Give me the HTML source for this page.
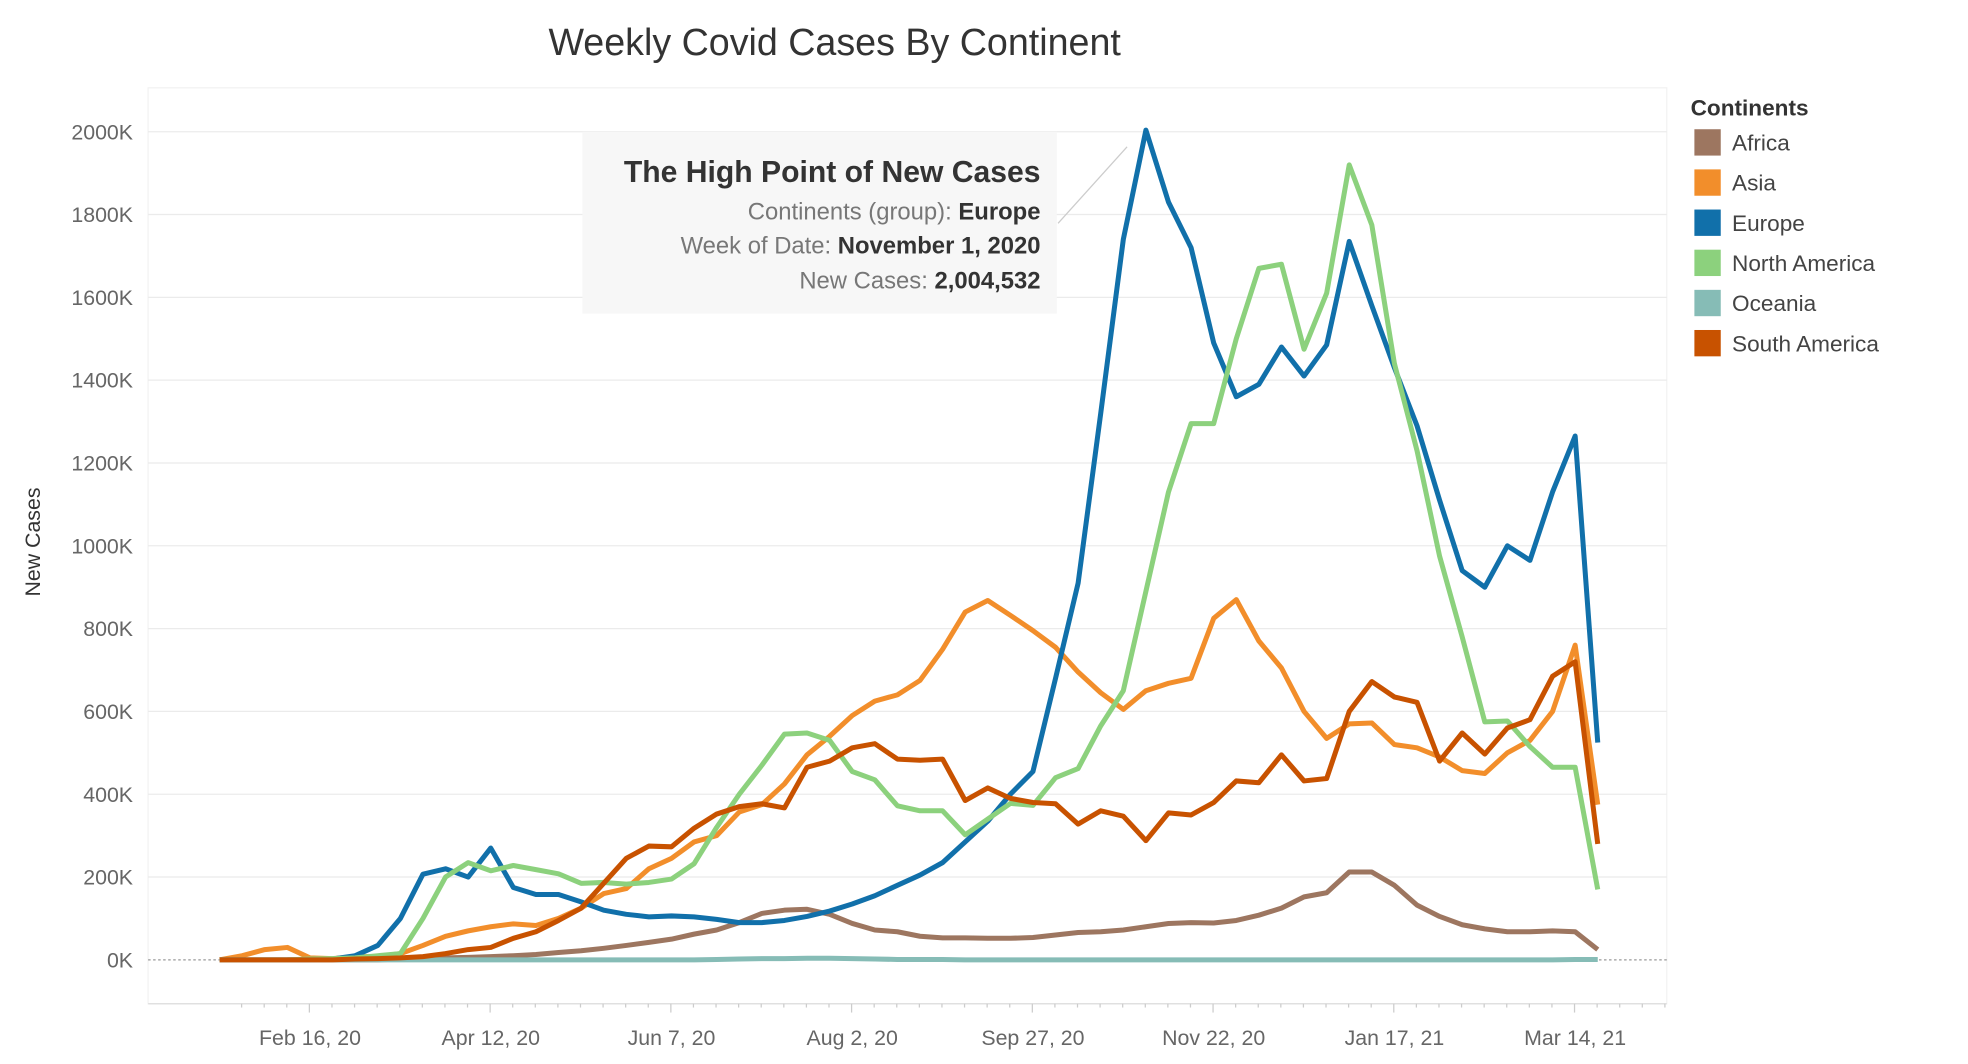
<!DOCTYPE html>
<html><head><meta charset="utf-8"><style>
html,body{margin:0;padding:0;background:#fff;}
svg{display:block;font-family:"Liberation Sans",sans-serif;}
</style></head><body>
<svg id="chart" width="1968" height="1064" viewBox="0 0 1568 848" preserveAspectRatio="none" xmlns="http://www.w3.org/2000/svg">
<text x="665" y="44" text-anchor="middle" font-size="30" fill="#333" font-weight="300">Weekly Covid Cases By Continent</text>
<g id="grid"></g>
<g id="axes"></g>
<g id="series"></g>
<g>
<line x1="843" y1="178" x2="898" y2="117" stroke="#ccc" stroke-width="1"/>
<rect x="464" y="105" width="378" height="145" fill="#f7f7f7"/>
<text x="829" y="145" text-anchor="end" font-size="24" font-weight="bold" fill="#333">The High Point of New Cases</text>
<text x="829" y="175" text-anchor="end" font-size="19" fill="#777">Continents (group): <tspan font-weight="bold" fill="#333">Europe</tspan></text>
<text x="829" y="202" text-anchor="end" font-size="19" fill="#777">Week of Date: <tspan font-weight="bold" fill="#333">November 1, 2020</tspan></text>
<text x="829" y="230" text-anchor="end" font-size="19" fill="#777">New Cases: <tspan font-weight="bold" fill="#333">2,004,532</tspan></text>
</g>
<text transform="translate(32,432) rotate(-90)" text-anchor="middle" font-size="17" fill="#333">New Cases</text>
<g id="legend"></g>
</svg>
<script>
const xLabels=["Feb 16, 20","Apr 12, 20","Jun 7, 20","Aug 2, 20","Sep 27, 20","Nov 22, 20","Jan 17, 21","Mar 14, 21"];
const yTicks=[0,200,400,600,800,1000,1200,1400,1600,1800,2000];
const continents=["Africa","Asia","Europe","North America","Oceania","South America"];
const colors=["#9d7660","#f28e2b","#1170aa","#8cd17d","#86bcb6","#c85200"];
const africa=[null,null,null,0,0,0,0,0,2,3,5,6,8,10,13,18,22,28,35,42,50,62,72,90,112,120,122,110,88,72,68,57,53,53,52,52,54,60,66,68,72,80,88,90,89,95,108,125,152,162,212,212,180,132,105,85,75,68,68,70,68,25];
const asia=[0,10,25,30,5,3,8,8,15,35,57,70,80,87,83,100,125,160,172,220,245,285,300,357,375,425,495,540,590,625,640,675,750,840,868,832,795,755,695,645,605,650,668,680,825,870,770,705,600,535,570,572,520,512,490,457,450,500,530,600,760,375];
const europe=[0,0,0,0,0,2,10,35,100,207,220,200,270,175,158,158,140,120,110,104,106,104,98,90,90,95,105,118,135,155,180,205,235,285,335,400,455,680,910,1320,1740,2004,1830,1720,1490,1360,1390,1480,1410,1485,1735,1580,1430,1290,1110,940,900,1000,965,1130,1265,525];
const northAmerica=[0,0,0,0,2,3,5,10,15,100,200,235,215,228,218,208,185,187,183,187,195,232,320,400,470,545,548,530,455,435,372,360,360,302,340,378,373,440,462,565,650,890,1130,1295,1295,1500,1670,1680,1475,1610,1920,1775,1440,1230,975,780,575,577,515,465,465,170];
const oceania=[0,0,0,0,0,0,0,0,0,0,0,0,0,0,0,0,0,0,0,0,0,0,1,2,3,3,4,4,3,2,1,1,1,0,0,0,0,0,0,0,0,0,0,0,0,0,0,0,0,0,0,0,0,0,0,0,0,0,0,0,1,1];
const southAmerica=[0,0,0,0,0,0,2,3,5,8,15,25,30,52,68,95,125,185,245,275,273,318,352,370,377,367,465,480,512,522,485,482,485,385,415,390,380,377,328,360,347,288,355,350,380,432,428,495,432,438,600,672,635,622,480,548,497,560,580,685,720,280];
const seriesData=[africa,asia,europe,northAmerica,oceania,southAmerica];
const NS="http://www.w3.org/2000/svg";
const X0=175,DX=18,Y0=765,PXK=0.33;
function xs(i){return X0+DX*i;}
function ys(v){return Y0-v*PXK;}
function mk(t,a,p){const e=document.createElementNS(NS,t);for(const k in a)e.setAttribute(k,a[k]);p.appendChild(e);return e;}
const grid=document.getElementById('grid'),axes=document.getElementById('axes'),ser=document.getElementById('series'),leg=document.getElementById('legend');
mk('rect',{x:118,y:70,width:1210,height:730,fill:'none',stroke:'#f2f2f2'},grid);
yTicks.forEach(v=>{
  if(v>0){const l=mk('line',{x1:118,x2:1328,y1:ys(v),y2:ys(v),stroke:'#ebebeb','stroke-width':1},grid);
  
  }
  const t=mk('text',{x:106,y:ys(v)+6,'text-anchor':'end','font-size':17,fill:'#666'},axes);
  t.textContent=v+'K';
  
  
});
const z=mk('line',{x1:118,x2:1328,y1:Y0,y2:Y0,stroke:'#999','stroke-dasharray':'2,2'},grid);


mk('line',{x1:118,x2:1328,y1:800,y2:800,stroke:'#ddd'},axes);
for(let i=-3;i<=60;i++){mk('line',{x1:xs(i+4)-0.5,x2:xs(i+4)-0.5,y1:800,y2:i%8==0?807:803,stroke:'#ccc'},axes);}
xLabels.forEach((s,k)=>{
  const t=mk('text',{x:xs(4+8*k),y:833,'text-anchor':'middle','font-size':17,fill:'#666'},axes);
  t.textContent=s;
  
  
});
seriesData.forEach((arr,si)=>{
  let d='';arr.forEach((v,i)=>{if(v===null)return;d+=(d?'L':'M')+xs(i).toFixed(1)+','+ys(v).toFixed(1);});
  const p=mk('path',{d:d,fill:'none',stroke:colors[si],'stroke-width':4,'stroke-linejoin':'round'},ser);
  
  
});
const lt=mk('text',{x:1347,y:92,'font-size':18,'font-weight':'bold',fill:'#333'},leg);lt.textContent='Continents';


continents.forEach((c,k)=>{
  const g=mk('g',{},leg);
  
  
  mk('rect',{x:1350,y:103+32*k,width:21,height:21,fill:colors[k]},g);
  const t=mk('text',{x:1380,y:120+32*k,'font-size':18,fill:'#444'},g);t.textContent=c;
});
</script>
</body></html>
